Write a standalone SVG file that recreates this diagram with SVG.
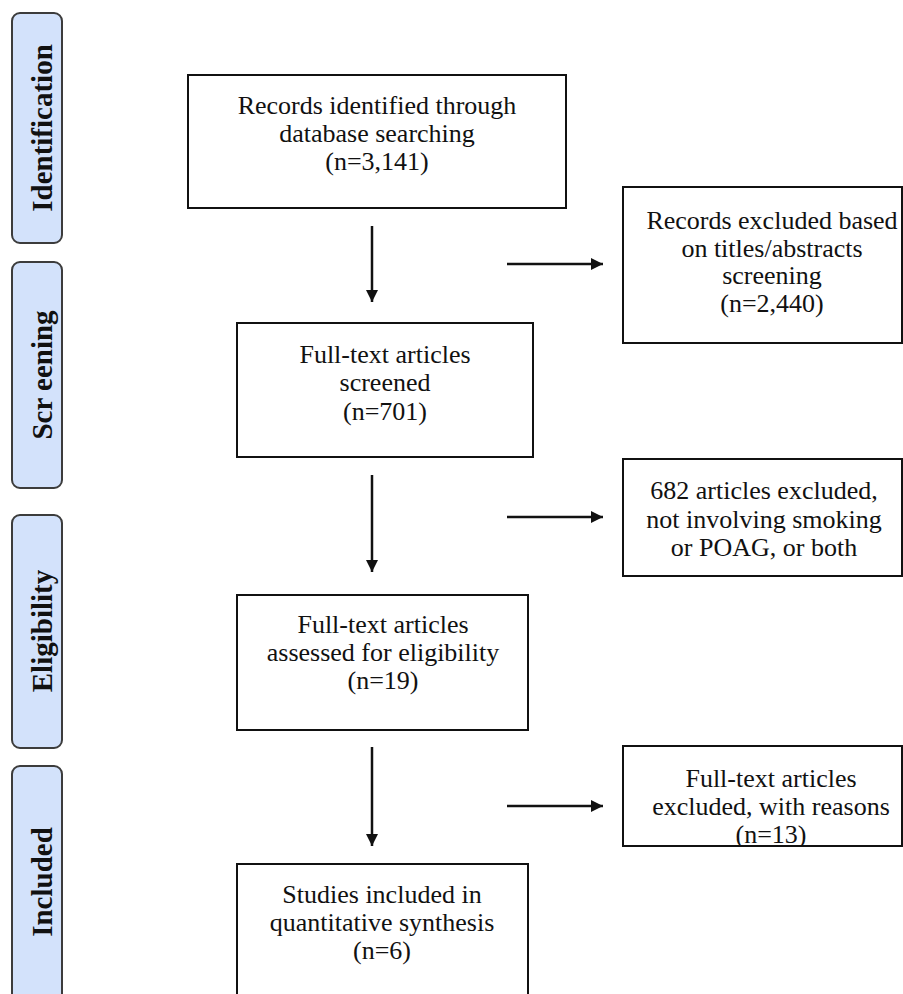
<svg xmlns="http://www.w3.org/2000/svg" width="903" height="994" viewBox="0 0 903 994">
<style>
.box{fill:#fff;stroke:#111;stroke-width:2}
.side{fill:#d3e2fb;stroke:#3c3c3c;stroke-width:2}
text{font-family:'Liberation Serif','Times New Roman',serif;fill:#111;text-anchor:middle}
.t{font-size:26px}
.s{font-size:29px;font-weight:bold}
.c{stroke:#111;stroke-width:2.5;fill:none}
</style>
<defs>
<marker id="ah" markerUnits="userSpaceOnUse" markerWidth="14" markerHeight="14" refX="12" refY="6" orient="auto">
<path d="M0,0 L12,6 L0,12 Z" fill="#111"/>
</marker>
<clipPath id="clipR3"><rect x="620" y="744" width="283" height="102"/></clipPath>
</defs>
<rect width="903" height="994" fill="#fff"/>

<g id="phase-identification">
<rect class="side" x="12" y="13" width="50" height="230" rx="8"/>
<text class="s" transform="translate(52,128) rotate(-90)">Identification</text>
</g>
<g id="phase-screening">
<rect class="side" x="12" y="262" width="50" height="226" rx="8"/>
<text class="s" transform="translate(52,375) rotate(-90)">Scr eening</text>
</g>
<g id="phase-eligibility">
<rect class="side" x="12" y="515" width="50" height="233" rx="8"/>
<text class="s" transform="translate(52,631) rotate(-90)">Eligibility</text>
</g>
<g id="phase-included">
<rect class="side" x="12" y="766" width="50" height="240" rx="8"/>
<text class="s" transform="translate(52,882) rotate(-90)">Included</text>
</g>

<g id="records-identified">
<rect class="box" x="188" y="75" width="378" height="133"/>
<text class="t" x="377" y="114">Records identified through</text>
<text class="t" x="377" y="142">database searching</text>
<text class="t" x="377" y="170">(n=3,141)</text>
</g>
<g id="records-excluded">
<rect class="box" x="623" y="187" width="279" height="156"/>
<text class="t" x="772" y="229">Records excluded based</text>
<text class="t" x="772" y="256.5">on titles/abstracts</text>
<text class="t" x="772" y="284">screening</text>
<text class="t" x="772" y="311.5">(n=2,440)</text>
</g>
<g id="fulltext-screened">
<rect class="box" x="237" y="323" width="296" height="134"/>
<text class="t" x="385" y="363">Full-text articles</text>
<text class="t" x="385" y="391">screened</text>
<text class="t" x="385" y="420">(n=701)</text>
</g>
<g id="excluded-682">
<rect class="box" x="623" y="459" width="279" height="117"/>
<text class="t" x="764" y="499">682 articles excluded,</text>
<text class="t" x="764" y="528">not involving smoking</text>
<text class="t" x="764" y="556">or POAG, or both</text>
</g>
<g id="fulltext-eligibility">
<rect class="box" x="237" y="595" width="291" height="135"/>
<text class="t" x="383" y="633">Full-text articles</text>
<text class="t" x="383" y="661">assessed for eligibility</text>
<text class="t" x="383" y="689">(n=19)</text>
</g>
<g id="fulltext-excluded">
<rect class="box" x="623" y="746" width="279" height="100"/>
<g clip-path="url(#clipR3)">
<text class="t" x="771" y="787">Full-text articles</text>
<text class="t" x="771" y="815">excluded, with reasons</text>
<text class="t" x="771" y="843">(n=13)</text>
</g>
</g>
<g id="studies-included">
<rect class="box" x="237" y="864" width="291" height="150"/>
<text class="t" x="382" y="903">Studies included in</text>
<text class="t" x="382" y="931">quantitative synthesis</text>
<text class="t" x="382" y="959">(n=6)</text>
</g>

<g id="connectors">
<line class="c" x1="372" y1="226" x2="372" y2="302" marker-end="url(#ah)"/>
<line class="c" x1="507" y1="264" x2="603" y2="264" marker-end="url(#ah)"/>
<line class="c" x1="372" y1="475" x2="372" y2="572" marker-end="url(#ah)"/>
<line class="c" x1="507" y1="517" x2="603" y2="517" marker-end="url(#ah)"/>
<line class="c" x1="372" y1="747" x2="372" y2="846" marker-end="url(#ah)"/>
<line class="c" x1="507" y1="806" x2="603" y2="806" marker-end="url(#ah)"/>
</g>
</svg>
